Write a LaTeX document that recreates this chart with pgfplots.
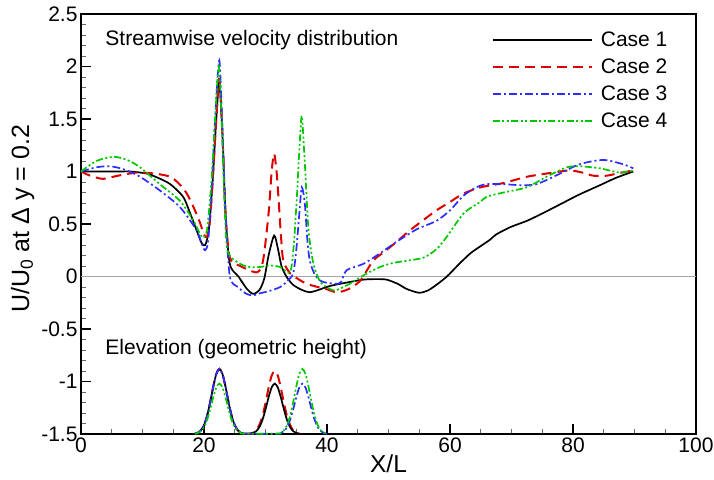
\documentclass[border=0pt]{standalone}
\usepackage{fontspec}
\setmainfont{Liberation Sans}
\usepackage{pgfplots}
\pgfplotsset{compat=1.18}

\definecolor{cOne}{RGB}{0,0,0}
\definecolor{cTwo}{RGB}{220,0,0}
\definecolor{cThree}{RGB}{45,45,255}
\definecolor{cFour}{RGB}{0,200,0}

\tikzset{
  styOne/.style={color=cOne, line width=1.7pt},
  styTwo/.style={color=cTwo, line width=2pt, dash pattern=on 10pt off 6pt},
  styThree/.style={color=cThree, line width=1.7pt, dash pattern=on 8pt off 3pt on 2pt off 3pt},
  styFour/.style={color=cFour, line width=1.7pt, dash pattern=on 7pt off 2.5pt on 2pt off 2.5pt on 2pt off 2.5pt},
}

\begin{document}
\begin{tikzpicture}
\begin{axis}[
  name=ax,
  scale only axis,
  width=615pt, height=420pt,
  xmin=0, xmax=100, ymin=-1.5, ymax=2.5,
  xtick={0,20,...,100},
  ytick={-1.5,-1,...,2.5},
  minor x tick num=3,
  minor y tick num=4,
  tick align=inside,
  tick pos=left,
  major tick length=10pt, minor tick length=5pt,
  every major tick/.style={black, line width=1.4pt},
  every minor tick/.style={black!60, line width=0.7pt},
  axis line style={line width=2pt},
  /pgf/number format/assume math mode=true,
  tick label style={font=\fontsize{21}{24}\selectfont},
  xlabel={X/L},
  ylabel={U/U\textsubscript{0} at Δ y = 0.2},
  xlabel style={font=\fontsize{24.5}{28}\selectfont, at={(axis description cs:0.5,-0.071)}, anchor=center},
  ylabel style={font=\fontsize{25}{28}\selectfont, at={(axis description cs:-0.095,0.513)}, anchor=center},
  legend style={draw=none, fill=none, at={(axis description cs:0.962,0.968)}, anchor=north east,
    font=\fontsize{21}{24}\selectfont, row sep=7pt, column sep=6pt},
  legend cell align=left,
  legend image code/.code={\draw[#1] (0pt,0pt) -- (99pt,0pt);},
  every axis plot/.append style={smooth, tension=0.45},
]

% zero reference line
\addplot[forget plot, gray!70, line width=0.8pt, sharp plot] coordinates {(0,0) (100,0)};

% elevation profiles
\addplot[forget plot, styTwo] coordinates {
(18.5,-1.496) (19,-1.488) (19.5,-1.465) (20,-1.416) (20.5,-1.328) (21,-1.198) (21.5,-1.05) (22,-0.928) (22.5,-0.88)
(23,-0.928) (23.5,-1.05) (24,-1.198) (24.5,-1.328) (25,-1.416) (25.5,-1.465) (26,-1.488) (26.5,-1.496)
(27.5,-1.496) (28,-1.488) (28.5,-1.465) (29,-1.414) (29.5,-1.331) (30,-1.206) (30.5,-1.062) (31,-0.944) (31.5,-0.9)
(32,-0.944) (32.5,-1.062) (33,-1.206) (33.5,-1.331) (34,-1.414) (34.5,-1.465) (35,-1.488) (35.5,-1.496)
};
\addplot[forget plot, styOne] coordinates {
(18.5,-1.496) (19,-1.488) (19.5,-1.465) (20,-1.416) (20.5,-1.328) (21,-1.198) (21.5,-1.05) (22,-0.928) (22.5,-0.88)
(23,-0.928) (23.5,-1.05) (24,-1.198) (24.5,-1.328) (25,-1.416) (25.5,-1.465) (26,-1.488) (26.5,-1.496)
(27.5,-1.497) (28,-1.49) (28.5,-1.473) (29,-1.435) (29.5,-1.367) (30,-1.266) (30.5,-1.152) (31,-1.057) (31.5,-1.02)
(32,-1.057) (32.5,-1.152) (33,-1.266) (33.5,-1.367) (34,-1.435) (34.5,-1.473) (35,-1.49) (35.5,-1.497)
};
\addplot[forget plot, styThree] coordinates {
(18.5,-1.496) (19,-1.488) (19.5,-1.465) (20,-1.416) (20.5,-1.328) (21,-1.198) (21.5,-1.05) (22,-0.928) (22.5,-0.88)
(23,-0.928) (23.5,-1.05) (24,-1.198) (24.5,-1.328) (25,-1.416) (25.5,-1.465) (26,-1.488) (26.5,-1.496)
(32,-1.497) (32.5,-1.49) (33,-1.473) (33.5,-1.435) (34,-1.367) (34.5,-1.266) (35,-1.152) (35.5,-1.057) (36,-1.02)
(36.5,-1.057) (37,-1.152) (37.5,-1.266) (38,-1.367) (38.5,-1.435) (39,-1.473) (39.5,-1.49) (40,-1.497)
};
\addplot[forget plot, styFour] coordinates {
(18.5,-1.497) (19,-1.49) (19.5,-1.473) (20,-1.435) (20.5,-1.367) (21,-1.266) (21.5,-1.152) (22,-1.057) (22.5,-1.02)
(23,-1.057) (23.5,-1.152) (24,-1.266) (24.5,-1.367) (25,-1.435) (25.5,-1.473) (26,-1.49) (26.5,-1.497)
(32,-1.496) (32.5,-1.488) (33,-1.465) (33.5,-1.416) (34,-1.328) (34.5,-1.198) (35,-1.05) (35.5,-0.928) (36,-0.88)
(36.5,-0.928) (37,-1.05) (37.5,-1.198) (38,-1.328) (38.5,-1.416) (39,-1.465) (39.5,-1.488) (40,-1.496)
};

% streamwise velocity
\addplot[styOne] coordinates {
(0,1.0) (3,1.0) (6,1.0) (8,1.0) (10.7,0.98) (12.5,0.94) (14.5,0.88) (16.6,0.76) (17.7,0.61) (18.8,0.44)
(19.6,0.32) (20.2,0.30) (20.8,0.45) (21.4,0.9) (22.0,1.5) (22.5,1.85) (23.0,1.35) (23.5,0.6) (24.2,0.12)
(25.6,0.0) (27.0,-0.12) (28.0,-0.165) (29.0,-0.13) (29.8,-0.02) (30.5,0.2) (31.4,0.39) (32.0,0.27)
(32.6,0.1) (33.4,0.0) (34.5,-0.08) (36.0,-0.13) (37.2,-0.15) (38.5,-0.13) (40.5,-0.09) (43.0,-0.06)
(45.9,-0.03) (48.0,-0.025) (49.7,-0.03) (51.5,-0.07) (53.0,-0.12) (55.0,-0.155) (56.5,-0.13) (58.0,-0.07)
(59.5,0.0) (61.5,0.12) (63.3,0.22) (65.0,0.29) (66.5,0.35) (67.5,0.4) (69.8,0.47) (72.5,0.53) (75.0,0.6)
(78.0,0.69) (81.0,0.78) (84.4,0.87) (87.0,0.94) (89.8,1.0)
};
\addlegendentry{Case 1}
\addplot[styTwo] coordinates {
(0,1.0) (1.5,0.96) (3.6,0.93) (6,0.96) (9.1,0.99) (12,0.98) (14.5,0.95) (16,0.88) (17.2,0.79) (18.3,0.66)
(19.3,0.52) (20.0,0.40) (20.5,0.38) (21.0,0.55) (21.6,1.1) (22.1,1.6) (22.5,1.88) (23.0,1.35) (23.5,0.6)
(24.2,0.18) (25.9,0.10) (28.6,0.04) (29.6,0.15) (30.5,0.6) (31.0,1.0) (31.4,1.17) (31.8,1.0) (32.1,0.76)
(32.5,0.4) (32.9,0.15) (34.0,0.03) (35.2,-0.02) (36.7,-0.07) (38.5,-0.1) (39.9,-0.12) (41.6,-0.15)
(43.5,-0.12) (45.4,-0.04) (47.5,0.15) (49.2,0.23) (51.5,0.34) (53.5,0.44) (55.5,0.53) (57.8,0.63)
(60,0.71) (62.2,0.79) (65.0,0.85) (68.7,0.89) (72.5,0.95) (76.8,0.99) (79.5,1.01) (81.5,0.99) (83.3,0.96)
(85.5,0.96) (87.1,0.98) (89.8,1.01)
};
\addlegendentry{Case 2}
\addplot[styThree] coordinates {
(0,1.0) (2.5,1.04) (4.7,1.05) (7,1.02) (9.6,0.95) (12.8,0.82) (16.1,0.66) (18.8,0.44) (19.7,0.3) (20.2,0.25)
(20.7,0.35) (21.3,0.9) (21.9,1.6) (22.5,2.06) (23.0,1.4) (23.5,0.6) (24.2,0.0) (25.5,-0.1) (26.9,-0.165)
(28.0,-0.18) (29.1,-0.16) (30.5,-0.14) (32.4,-0.10) (33.6,-0.04) (34.5,0.03) (35.0,0.25) (35.5,0.6)
(35.9,0.85) (36.4,0.69) (36.8,0.35) (37.2,0.15) (38.0,0.02) (38.9,-0.04) (40.0,-0.06) (41.6,-0.07)
(42.3,-0.05) (43.2,0.06) (45.9,0.12) (48.6,0.22) (51.3,0.33) (54.6,0.45) (57.8,0.53) (60.0,0.63)
(62.2,0.77) (64.3,0.85) (66.0,0.88) (68.5,0.88) (71.4,0.87) (74.1,0.88) (77.9,0.98) (81.1,1.07)
(84.9,1.11) (88.1,1.07) (89.8,1.03)
};
\addlegendentry{Case 3}
\addplot[styFour] coordinates {
(0,1.0) (2.5,1.1) (5.3,1.14) (7.5,1.11) (9.6,1.04) (12.8,0.88) (16.1,0.72) (18.3,0.53) (19.4,0.4) (19.9,0.37)
(20.5,0.45) (21.2,0.9) (21.8,1.5) (22.4,2.0) (22.9,1.45) (23.4,0.6) (23.9,0.23) (25.9,0.12) (27.5,0.09)
(29.1,0.09) (30.7,0.105) (32.4,0.09) (34.0,0.04) (34.6,0.3) (35.1,0.76) (35.5,1.2) (35.9,1.53) (36.4,1.07)
(37.0,0.44) (37.8,0.12) (38.9,-0.05) (40.5,-0.12) (41.5,-0.13) (43.7,-0.07) (45.9,0.01) (48.6,0.09)
(50.8,0.13) (53.0,0.15) (55.7,0.18) (57.8,0.26) (59.5,0.38) (62.2,0.6) (64.9,0.71) (66,0.76) (68.7,0.8)
(72.5,0.85) (75.7,0.95) (79.0,1.04) (81.1,1.05) (84.4,1.03) (87.6,0.99) (89.8,1.01)
};
\addlegendentry{Case 4}

\node[anchor=west, font=\fontsize{21}{24}\selectfont] at (axis cs:3.4,2.25) {Streamwise velocity distribution};
\node[anchor=west, font=\fontsize{21}{24}\selectfont] at (axis cs:3.4,-0.695) {Elevation (geometric height)};
\end{axis}
\pgfresetboundingbox
\path ([xshift=-81pt,yshift=-45pt]ax.south west) rectangle ([xshift=18pt,yshift=14pt]ax.north east);
\end{tikzpicture}
\end{document}
